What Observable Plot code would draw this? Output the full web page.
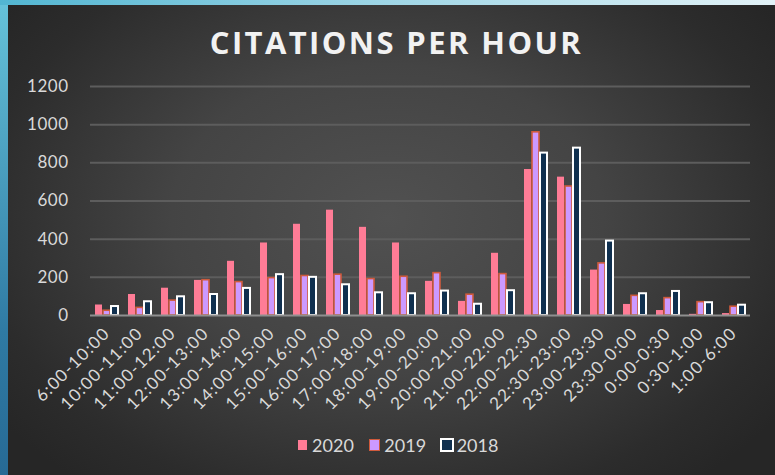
<!DOCTYPE html>
<html><head><meta charset="utf-8">
<script src="https://cdn.jsdelivr.net/npm/d3@7"></script>
<script src="https://cdn.jsdelivr.net/npm/@observablehq/plot@0.6"></script>
<style>
html,body{margin:0;padding:0;background:#2a2a2a;}
#wrap{position:relative;width:775px;height:475px;overflow:hidden;
 background:radial-gradient(ellipse 62% 72% at 50% 46%, #515151 0%, #444444 45%, #2c2c2c 85%, #262626 100%);
 font-family:Lato, "Open Sans", sans-serif;}
#lstrip{position:absolute;left:0;top:0;width:8px;height:475px;background:linear-gradient(#66c3da,#2f7aa3 70%,#276a95);}
#tstrip{position:absolute;left:0;top:0;width:775px;height:5px;background:linear-gradient(90deg,#52b6d2,#9fd6e6 50%,#e2f2f7);}
#title{position:absolute;left:18px;top:22px;width:757px;text-align:center;color:#f2f2f2;
 font-family:"Open Sans",sans-serif;font-weight:700;font-size:31px;letter-spacing:2.4px;line-height:40px;}
#chart{position:absolute;left:0;top:0;}
#chart g[aria-label="fx-axis tick label"] text{letter-spacing:1.3px;}
#chart g[aria-label="y-axis tick label"] text{letter-spacing:0.5px;}
#legend{position:absolute;left:0;top:434px;width:775px;display:flex;justify-content:center;padding-left:21px;box-sizing:border-box;
 color:#d9d9d9;font-size:18px;line-height:22px;font-family:Lato,sans-serif;gap:16px;align-items:center;}
.item{display:flex;align-items:center;gap:5px;}
.sw{width:9.5px;height:9.5px;display:inline-block;}
</style></head>
<body>
<div id="wrap">
 <div id="lstrip"></div><div id="tstrip"></div>
 <div id="title">CITATIONS PER HOUR</div>
 <div id="chart"></div>
 <div id="legend"></div>
</div>
<script>
const slots = ["6:00-10:00","10:00-11:00","11:00-12:00","12:00-13:00","13:00-14:00","14:00-15:00","15:00-16:00","16:00-17:00","17:00-18:00","18:00-19:00","19:00-20:00","20:00-21:00","21:00-22:00","22:00-22:30","22:30-23:00","23:00-23:30","23:30-0:00","0:00-0:30","0:30-1:00","1:00-6:00"];
const years = ["2020","2019","2018"];
const v2020 = [55,110,143,184,284,380,478,552,462,380,179,74,326,765,725,238,58,26,6,10];
const v2019 = [25,40,78,185,175,196,207,214,191,203,222,109,217,960,676,273,103,91,70,46];
const v2018 = [47,72,98,110,142,214,200,161,119,114,128,59,130,851,877,390,114,126,67,54];
const yTicks = [0,200,400,600,800,1000,1200];

const fills = ["#ff7c96","#cc99ff","#10304f"];
const strokes = ["none","#cf5a3c","#ffffff"];

const series = [v2020, v2019, v2018];
const data = [];
slots.forEach((s,i)=>years.forEach((y,j)=>data.push({slot:s, year:y, value:series[j][i]})));

const chart = Plot.plot({
  width:775, height:420,
  marginTop:86, marginBottom:105, marginLeft:83, marginRight:17,
  style:{background:"transparent", color:"#d9d9d9", fontFamily:"Lato, sans-serif", fontSize:"16px"},
  fx:{domain:slots, paddingInner:0.23, paddingOuter:0.115, label:null},
  x:{domain:years, paddingInner:0.1, paddingOuter:0.02, axis:null},
  y:{domain:[0,1200], label:null},
  color:{domain:years, range:fills},
  marks:[
    Plot.ruleY(yTicks.slice(1), {stroke:"#5d5d5d", strokeWidth:2, insetLeft:-4, insetRight:-4}),
    Plot.barY(data, {fx:"slot", x:"year", y:"value", fill:"year",
      stroke:d=>strokes[years.indexOf(d.year)], strokeWidth:d=>d.year==="2020"?0:(d.year==="2019"?1.6:2)}),
    Plot.ruleY([0], {stroke:"#8f8f8f", strokeWidth:2, insetLeft:-4, insetRight:-4}),
    Plot.axisY(yTicks, {tickSize:0, tickPadding:26, fontSize:17, label:null, fill:"#d9d9d9", tickFormat:d=>String(d)}),
    Plot.axisFx({anchor:"bottom", tickRotate:-45, tickSize:0, tickPadding:15, fontSize:17, label:null, fill:"#d9d9d9"})
  ]
});
document.getElementById("chart").appendChild(chart);

const leg = document.getElementById("legend");
years.forEach((y,j)=>{
  const it = document.createElement("div"); it.className="item";
  const sw = document.createElement("span"); sw.className="sw";
  sw.style.background = fills[j];
  if (strokes[j] !== "none") sw.style.outline = (j===1?"1.5px":"2px")+" solid "+strokes[j];
  const t = document.createElement("span"); t.textContent = y;
  it.appendChild(sw); it.appendChild(t); leg.appendChild(it);
});
</script>
</body></html>
